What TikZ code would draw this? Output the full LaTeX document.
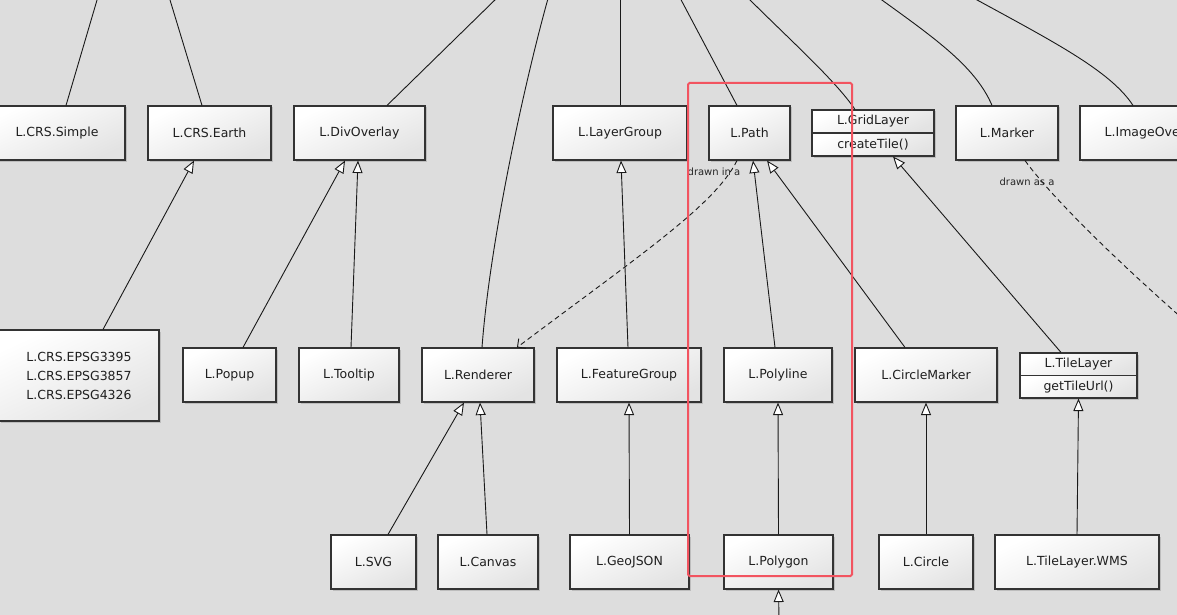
\documentclass[tikz,border=0pt]{standalone}
\usepackage{fontspec}
\setmainfont{DejaVu Sans}
\usetikzlibrary{arrows.meta,shadows,calc}
\definecolor{bgc}{HTML}{DDDDDD}
\definecolor{boxline}{HTML}{333333}
\definecolor{hl}{RGB}{242,84,96}
\begin{document}
\begin{tikzpicture}[x=1pt,y=-1pt,
 cls/.style={draw=boxline, line width=1.1pt, top color=white, bottom color=black!11, shading angle=25,
   drop shadow={shadow xshift=1.5pt, shadow yshift=-1.5pt, opacity=0.14, fill=black},
   inner sep=0pt, minimum height=54pt, font=\fontsize{12.5}{16}\selectfont, text=black!88},
 part/.style={cls, minimum height=23pt},
 inh/.style={draw=black!90, line width=0.9pt, -{Triangle[length=12.5pt,width=10pt,fill=white]}},
 plain/.style={draw=black!90, line width=0.9pt},
 dep/.style={draw=black!90, line width=0.9pt, dash pattern=on 5pt off 3.5pt},
 lbl/.style={font=\fontsize{10}{12}\selectfont, text=black!85, inner sep=0pt}
]
\useasboundingbox (0,0) rectangle (1177,615);
\clip (0,0) rectangle (1177,615);
\fill[bgc] (0,0) rectangle (1177,615);

% row 1
\node[cls, minimum width=136pt] (simple) at (57,133) {L.CRS.Simple};
\node[cls, minimum width=123pt] (earth) at (209.5,133) {L.CRS.Earth};
\node[cls, minimum width=131pt] (divov) at (359.5,133) {L.DivOverlay};
\node[cls, minimum width=134pt] (lgroup) at (620,133) {L.LayerGroup};
\node[cls, minimum width=81pt] (path) at (749.5,133) {L.Path};
\node[part, minimum width=122pt] (gridA) at (873,121.5) {L.GridLayer};
\node[part, minimum width=122pt] (gridB) at (873,144.5) {createTile()};
\node[cls, minimum width=102pt] (marker) at (1007,133) {L.Marker};
\node[cls, minimum width=148pt] (imgov) at (1154,133) {L.ImageOverlay};

% row 2
\node[cls, minimum width=160pt, minimum height=91pt, align=center, font=\fontsize{12.5}{19}\selectfont] (epsg) at (79,375.5) {L.CRS.EPSG3395\\L.CRS.EPSG3857\\L.CRS.EPSG4326};
\node[cls, minimum width=93pt] (popup) at (229.5,375) {L.Popup};
\node[cls, minimum width=100pt] (tooltip) at (349,375) {L.Tooltip};
\node[cls, minimum width=112pt] (renderer) at (478,375) {L.Renderer};
\node[cls, minimum width=144pt] (fgroup) at (629,375) {L.FeatureGroup};
\node[cls, minimum width=108pt] (polyline) at (778,375) {L.Polyline};
\node[cls, minimum width=142pt] (cmarker) at (926,375) {L.CircleMarker};
\node[part, minimum width=117pt, minimum height=22.5pt] (tileA) at (1078.5,364.25) {L.TileLayer};
\node[part, minimum width=117pt, minimum height=22.5pt] (tileB) at (1078.5,386.75) {getTileUrl()};

% row 3
\node[cls, minimum width=85pt] (svg) at (373.5,562) {L.SVG};
\node[cls, minimum width=100pt] (canvas) at (488,562) {L.Canvas};
\node[cls, minimum width=119pt] (geojson) at (629.5,562) {L.GeoJSON};
\node[cls, minimum width=109pt] (polygon) at (778.5,562) {L.Polygon};
\node[cls, minimum width=94pt] (circle) at (926,562) {L.Circle};
\node[cls, minimum width=164pt] (wms) at (1077,562) {L.TileLayer.WMS};

% free ends
\coordinate (t1) at (98.5,-5);
\coordinate (t2) at (168.5,-5);
\coordinate (t3) at (500,-5);
\coordinate (t4) at (549,-5);
\coordinate (t5) at (620,-5);
\coordinate (t6) at (678.5,-5);
\coordinate (t7) at (745,-5);
\coordinate (t8) at (875,-5);
\coordinate (t9) at (968,-5);
\coordinate (bot) at (779,620);
\coordinate (mk) at (1192,327);

% edges from above
\draw[plain] (t1) -- ([xshift=9pt]simple.north);
\draw[plain] (t2) -- ([xshift=-7.5pt]earth.north);
\draw[plain] (t3) -- ([xshift=27.5pt]divov.north);
\draw[plain] (t4) .. controls (525,80) and (490,240) .. ([xshift=4pt]renderer.north);
\draw[plain] (t5) -- (lgroup.north);
\draw[plain] (t6) -- ([xshift=-12.5pt]path.north);
\draw[plain] (t7) .. controls (790,40) and (835,80) .. ([xshift=-18pt]gridA.north);
\draw[plain] (t8) .. controls (930,35) and (975,65) .. ([xshift=-15pt]marker.north);
\draw[plain] (t9) .. controls (1050,40) and (1110,70) .. ([xshift=-21pt]imgov.north);

% inheritance row 2 -> row 1
\draw[inh] ([xshift=24pt]epsg.north) -- ([xshift=-15.5pt]earth.south);
\draw[inh] ([xshift=13.5pt]popup.north) -- ([xshift=-14.5pt]divov.south);
\draw[inh] ([xshift=2pt]tooltip.north) -- ([xshift=-1.5pt]divov.south);
\draw[inh] ([xshift=-1pt]fgroup.north) -- ([xshift=1pt]lgroup.south);
\draw[inh] ([xshift=-3pt]polyline.north) -- ([xshift=3.5pt]path.south);
\draw[inh] ([xshift=-21pt]cmarker.north) -- ([xshift=17.5pt]path.south);
\draw[inh] ([xshift=-17.5pt]tileA.north) -- ([xshift=20pt]gridB.south);

% inheritance row 3 -> row 2
\draw[inh] ([xshift=14.5pt]svg.north) -- ([xshift=-14pt]renderer.south);
\draw[inh] ([xshift=-1pt]canvas.north) -- ([xshift=2pt]renderer.south);
\draw[inh] (geojson.north) -- (fgroup.south);
\draw[inh] (polygon.north) -- (polyline.south);
\draw[inh] (circle.north) -- (cmarker.south);
\draw[inh] (wms.north) -- (tileB.south);
\draw[inh] (bot) -- (polygon.south);

% dependencies
\draw[dep, -{Straight Barb[length=6pt,width=12pt]}] ([xshift=-12.5pt]path.south) .. controls (715,205) and (640,255) .. ([xshift=39pt]renderer.north);
\node[lbl] (lblA) at (714,172) {drawn in a};
\draw[dep] ([xshift=18pt]marker.south) .. controls (1050,195) and (1110,255) .. (mk);
\node[lbl] (lblB) at (1027,182) {drawn as a};

% highlight
\draw[hl, line width=2pt, rounded corners=1.5pt] (688,83) rectangle (852,576);
\end{tikzpicture}
\end{document}
